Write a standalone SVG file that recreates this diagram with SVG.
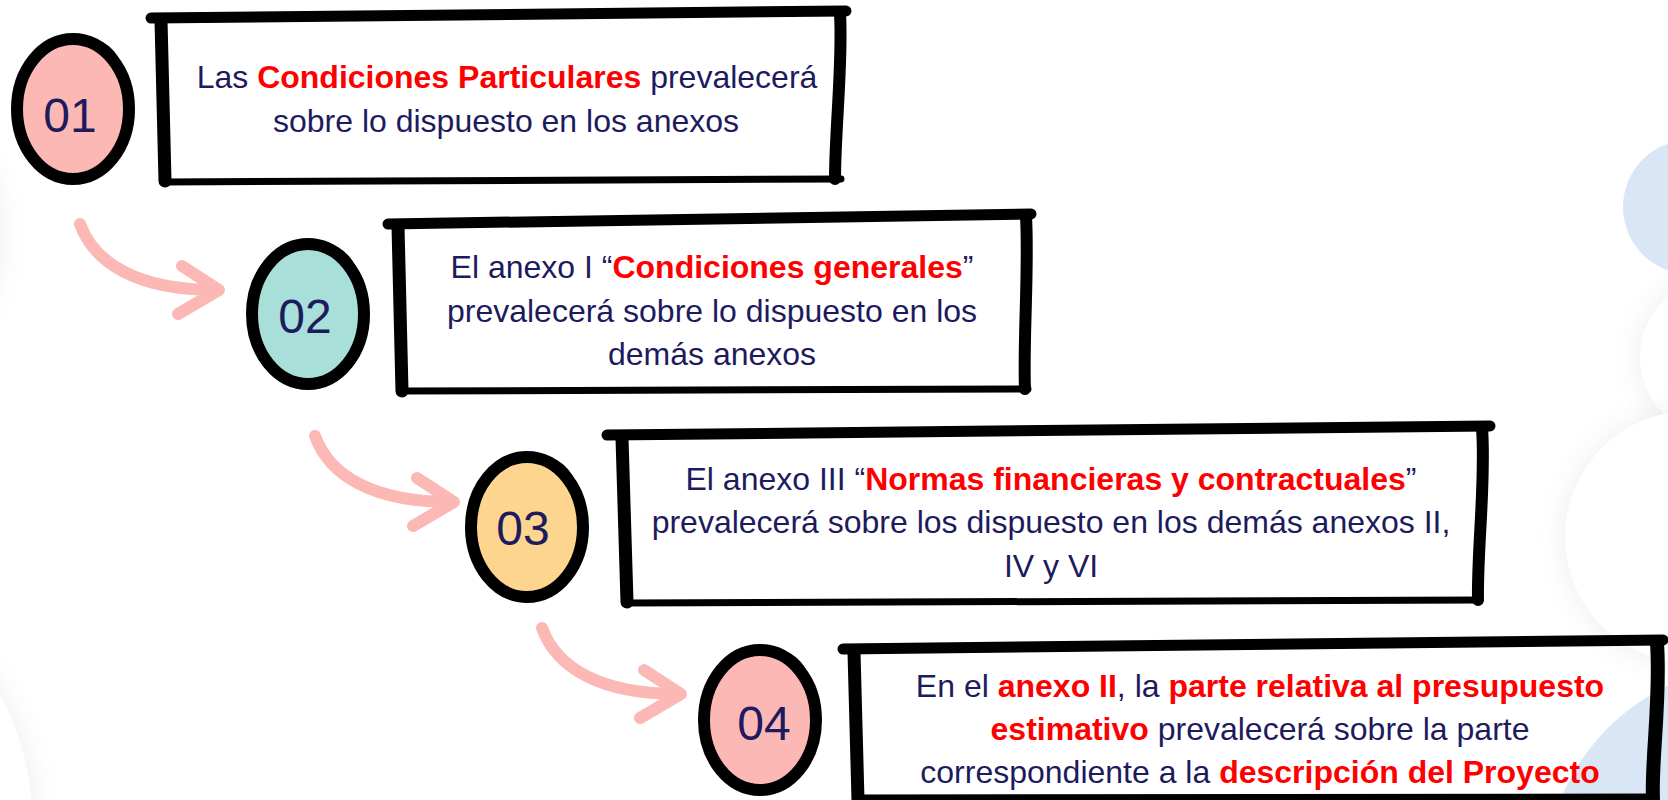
<svg xmlns="http://www.w3.org/2000/svg" width="1668" height="800" viewBox="0 0 1668 800">
<style>
  .t { font-family: "Liberation Sans", Arial, sans-serif; font-size: 32px; fill: #1d1b5e; text-anchor: middle; }
  .b { font-weight: bold; fill: #ff0000; }
  .num { font-family: "Liberation Sans", Arial, sans-serif; font-size: 48px; fill: #1d1b5e; text-anchor: middle; }
  .edge { stroke: #000; fill: none; stroke-linecap: round; stroke-linejoin: round; }
  .ring { stroke: #000; fill: none; stroke-width: 12; }
  .arrow { stroke: #fcb8b4; fill: none; stroke-width: 12; stroke-linecap: round; stroke-linejoin: round; }
  .shadow { fill: #000; opacity: 0.07; }
</style>
<defs>
  <filter id="soft" x="-50%" y="-50%" width="200%" height="200%">
    <feGaussianBlur stdDeviation="16"/>
  </filter>
  <g id="arr">
    <path class="arrow" d="M80,224 C95,265 140,290 216,290"/>
    <path class="arrow" d="M182,266 L219,290 L178,314"/>
  </g>
</defs>
<rect width="1668" height="800" fill="#ffffff"/>
<g id="background">
  <circle cx="-150" cy="235" r="150" class="shadow" filter="url(#soft)"/>
  <circle cx="-150" cy="235" r="150" fill="#fff"/>
  <circle cx="-230" cy="820" r="262" class="shadow" filter="url(#soft)"/>
  <circle cx="-230" cy="820" r="262" fill="#fff"/>
  <circle cx="1720" cy="357" r="80" class="shadow" filter="url(#soft)"/>
  <circle cx="1720" cy="357" r="80" fill="#fff"/>
  <circle cx="1691" cy="537" r="126" class="shadow" filter="url(#soft)"/>
  <circle cx="1691" cy="537" r="126" fill="#fff"/>
  <circle cx="1690" cy="207" r="67" fill="#d9e6f5"/>
  <circle cx="1760" cy="880" r="215" fill="#d9e6f5"/>
</g>
<g id="connectors">
  <use href="#arr"/>
  <use href="#arr" transform="translate(235,212)"/>
  <use href="#arr" transform="translate(462,404)"/>
</g>
<g id="c1">
  <ellipse cx="69" cy="109" rx="56" ry="70" fill="#fbb8b5"/>
  <ellipse class="ring" cx="73" cy="109" rx="56" ry="70"/>
  <path class="edge" stroke-width="6" d="M102,45 Q114,52 119,66"/>
  <text class="num" x="70" y="132">01</text>
</g>
<g id="c2">
  <ellipse cx="304" cy="314" rx="56" ry="70" fill="#a8dfd9"/>
  <ellipse class="ring" cx="308" cy="314" rx="56" ry="70"/>
  <path class="edge" stroke-width="6" d="M337,250 Q349,257 354,271"/>
  <text class="num" x="305" y="333">02</text>
</g>
<g id="c3">
  <ellipse cx="523" cy="527" rx="56" ry="70" fill="#fdd58e"/>
  <ellipse class="ring" cx="527" cy="527" rx="56" ry="70"/>
  <path class="edge" stroke-width="6" d="M556,463 Q568,470 573,484"/>
  <text class="num" x="523" y="545">03</text>
</g>
<g id="c4">
  <ellipse cx="756" cy="720" rx="56" ry="70" fill="#fbb8b5"/>
  <ellipse class="ring" cx="760" cy="720" rx="56" ry="70"/>
  <path class="edge" stroke-width="6" d="M789,656 Q801,663 806,677"/>
  <text class="num" x="764" y="740">04</text>
</g>
<g id="box1">
  <polygon points="160,16 842,12 838,180 164,182" fill="#fff"/>
  <path class="edge" stroke-width="11" d="M151,18 L846,11"/>
  <path class="edge" stroke-width="13" d="M161,20 L165,181"/>
  <path class="edge" stroke-width="12" d="M840,14 C843,60 835,130 835,179"/>
  <path class="edge" stroke-width="7" d="M164,182 L841,179"/>
  <text class="t" x="507" y="88">Las <tspan class="b">Condiciones Particulares</tspan> prevalecerá</text>
  <text class="t" x="506" y="132">sobre lo dispuesto en los anexos</text>
</g>
<g id="box2">
  <polygon points="398,222 1028,214 1025,390 402,391" fill="#fff"/>
  <path class="edge" stroke-width="11" d="M388,224 L1031,214"/>
  <path class="edge" stroke-width="13" d="M398,226 L402,391"/>
  <path class="edge" stroke-width="12" d="M1026,216 C1029,270 1023,340 1025,389"/>
  <path class="edge" stroke-width="7" d="M401,391 L1028,389"/>
  <text class="t" x="712" y="278">El anexo I “<tspan class="b">Condiciones generales</tspan>”</text>
  <text class="t" x="712" y="322">prevalecerá sobre lo dispuesto en los</text>
  <text class="t" x="712" y="365">demás anexos</text>
</g>
<g id="box3">
  <polygon points="622,436 1482,428 1478,600 627,602" fill="#fff"/>
  <path class="edge" stroke-width="11" d="M607,435 L1490,426"/>
  <path class="edge" stroke-width="13" d="M622,438 L627,602"/>
  <path class="edge" stroke-width="12" d="M1482,428 C1486,480 1477,550 1478,600"/>
  <path class="edge" stroke-width="7" d="M626,603 L1480,600"/>
  <text class="t" x="1051" y="490">El anexo III “<tspan class="b">Normas financieras y contractuales</tspan>”</text>
  <text class="t" x="1051" y="533">prevalecerá sobre los dispuesto en los demás anexos II,</text>
  <text class="t" x="1051" y="577">IV y VI</text>
</g>
<g id="box4">
  <path class="edge" stroke-width="11" d="M843,649 L1663,640"/>
  <path class="edge" stroke-width="13" d="M854,652 L858,800"/>
  <path class="edge" stroke-width="14" d="M1657,643 C1661,700 1651,760 1653,800"/>
  <path class="edge" stroke-width="7" d="M857,798 L1652,797"/>
  <text class="t" x="1260" y="697">En el <tspan class="b">anexo II</tspan>, la <tspan class="b">parte relativa al presupuesto</tspan></text>
  <text class="t" x="1260" y="740"><tspan class="b">estimativo</tspan> prevalecerá sobre la parte</text>
  <text class="t" x="1260" y="783">correspondiente a la <tspan class="b">descripción del Proyecto</tspan></text>
</g>
</svg>
